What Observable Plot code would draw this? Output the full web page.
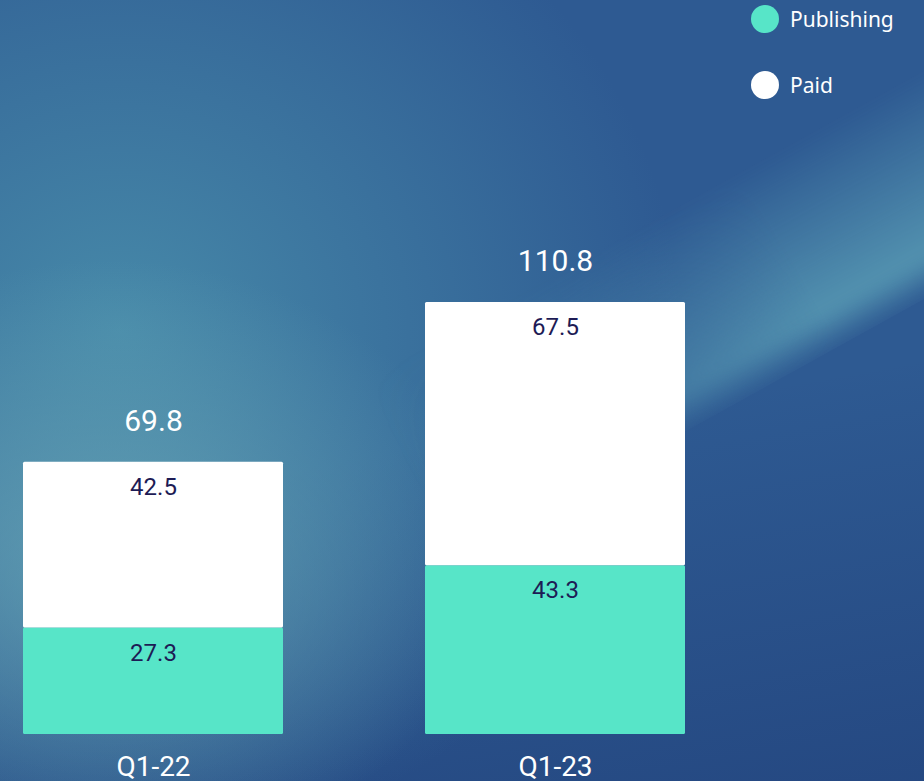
<!DOCTYPE html>
<html>
<head>
<meta charset="utf-8">
<script src="https://cdn.jsdelivr.net/npm/d3@7"></script>
<script src="https://cdn.jsdelivr.net/npm/@observablehq/plot@0.6"></script>
<style>
  html, body { margin: 0; padding: 0; }
  #wrap {
    position: relative; width: 924px; height: 781px; overflow: hidden;
    background:
      radial-gradient(ellipse 380px 300px at 110px 560px, rgba(108,170,184,0.75), rgba(108,170,184,0) 100%),
      radial-gradient(ellipse 560px 520px at 120px 330px, rgba(72,140,170,0.95), rgba(72,140,170,0) 100%),
      linear-gradient(170deg, rgba(0,0,0,0) 55%, rgba(20,40,100,0.35) 100%),
      #2e5a92;
  }
  #streak {
    position: absolute; left: 358px; top: 177px; width: 800px; height: 200px;
    transform: rotate(-29deg); transform-origin: center;
    background: linear-gradient(to bottom, rgba(95,165,185,0) 0%, rgba(95,165,185,0.75) 82%, rgba(95,165,185,0) 100%);
    -webkit-mask-image: linear-gradient(to right, transparent 0%, black 55%);
    mask-image: linear-gradient(to right, transparent 0%, black 55%);
    filter: blur(8px);
  }
  #legend { position: absolute; left: 751px; top: 5px; font-family: "Noto Sans", Lato, sans-serif; font-size: 21px; color: white; }
  .item { display: flex; align-items: center; height: 28px; margin-bottom: 38px; }
  .sw { width: 28px; height: 28px; border-radius: 50%; margin-right: 11px; }
  svg { position: absolute; left: 0; top: 0; }
</style>
</head>
<body>
<div id="wrap">
  <div id="streak"></div>
  <div id="legend"></div>
</div>
<script>
const categories = ["Q1-22", "Q1-23"];
const series = ["Publishing", "Paid"];
const publishing = [27.3, 43.3];
const paid = [42.5, 67.5];
const totals = [69.8, 110.8];
const seriesColors = ["#57e5c8", "#ffffff"];

const rows = [];
categories.forEach((q, i) => {
  rows.push({quarter: q, series: "Publishing", value: publishing[i]});
  rows.push({quarter: q, series: "Paid", value: paid[i]});
});
const totalRows = categories.map((q, i) => ({quarter: q, total: totals[i]}));

const chart = Plot.plot({
  width: 924,
  height: 781,
  marginLeft: 22,
  marginRight: 238,
  marginTop: 266,
  marginBottom: 47,
  style: {background: "transparent", color: "white", fontFamily: "Roboto, sans-serif"},
  x: {domain: categories, paddingInner: 0.352, paddingOuter: 0, axis: null, label: null},
  y: {domain: [0, 120], axis: null},
  color: {domain: series, range: seriesColors},
  marks: [
    Plot.barY(rows, Plot.stackY({x: "quarter", y: "value", fill: "series", z: "series", order: series, rx: 1.5})),
    Plot.text(rows, Plot.stackY2({x: "quarter", y: "value", z: "series", order: series,
      text: d => d.value.toFixed(1), dy: 25, fontSize: 24, fill: "#1d1b55", fontFamily: "Roboto, sans-serif"})),
    Plot.text(totalRows, {x: "quarter", y: "total", text: d => d.total.toFixed(1), dy: -41,
      fontSize: 30, fill: "white", fontFamily: "Roboto, sans-serif"}),
    Plot.axisX({tickSize: 0, tickPadding: 22, fontSize: 28, fill: "white", label: null, fontFamily: "Roboto, sans-serif"})
  ]
});
document.getElementById("wrap").appendChild(chart);

const legend = document.getElementById("legend");
series.forEach((s, i) => {
  const item = document.createElement("div");
  item.className = "item";
  const sw = document.createElement("span");
  sw.className = "sw";
  sw.style.background = seriesColors[i];
  const label = document.createElement("span");
  label.textContent = s;
  item.appendChild(sw);
  item.appendChild(label);
  legend.appendChild(item);
});
</script>
</body>
</html>
